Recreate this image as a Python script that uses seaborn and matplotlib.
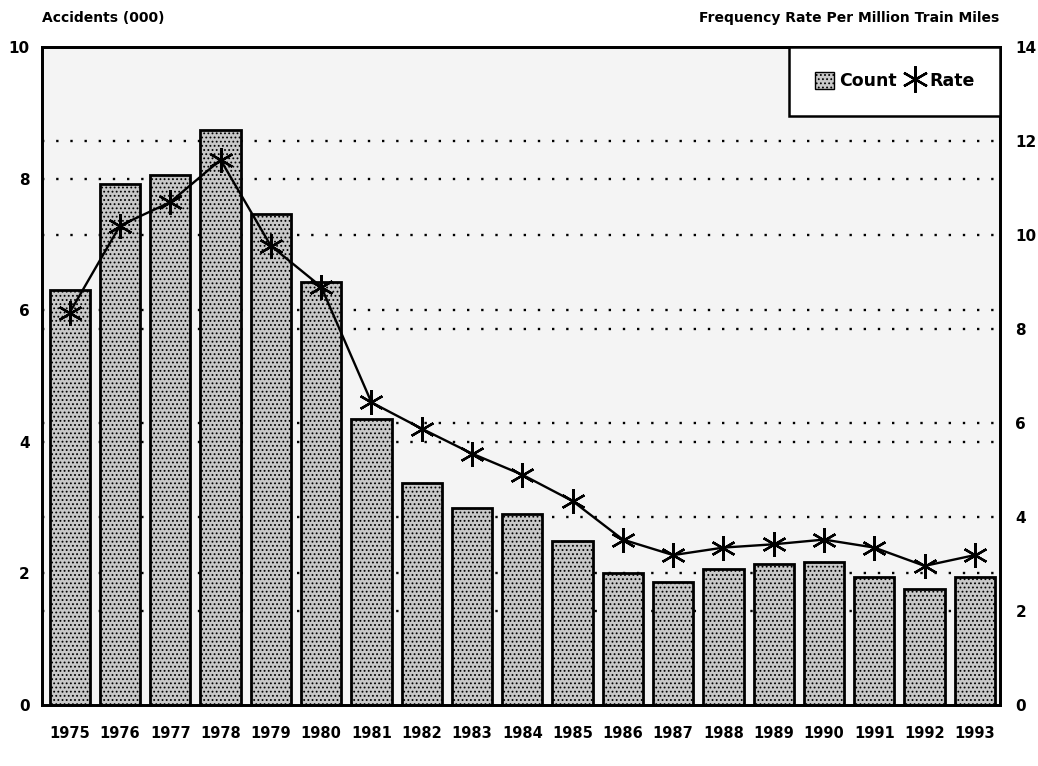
import numpy as np
import matplotlib
matplotlib.use("Agg")
import matplotlib.pyplot as plt
from matplotlib.lines import Line2D
from matplotlib.patches import Patch
import seaborn as sns

YEARS = ["1975", "1976", "1977", "1978", "1979", "1980", "1981", "1982", "1983", "1984",
         "1985", "1986", "1987", "1988", "1989", "1990", "1991", "1992", "1993"]
COUNT = [6.31, 7.92, 8.05, 8.74, 7.47, 6.43, 4.35, 3.38, 3.0, 2.91,
         2.5, 2.0, 1.87, 2.06, 2.15, 2.18, 1.95, 1.76, 1.95]
RATE = [8.35, 10.2, 10.7, 11.6, 9.77, 8.9, 6.44, 5.88, 5.35, 4.9,
        4.34, 3.52, 3.19, 3.35, 3.42, 3.52, 3.35, 2.96, 3.19]
LEFT_TICKS = [0, 2, 4, 6, 8, 10]
RIGHT_TICKS = [0, 2, 4, 6, 8, 10, 12, 14]

BG = "#f4f4f4"
BAR = "#c8c8c8"
INK = "black"
STAR = (6, 2, 0)

sns.set_theme(style="white")
plt.rcParams["font.family"] = ["DejaVu Sans"]
plt.rcParams["text.color"] = INK
plt.rcParams["hatch.linewidth"] = 0.8

fig = plt.figure(figsize=(10.38, 7.66), dpi=100, facecolor="white")
ax = fig.add_axes([0.0405, 0.0796, 0.9229, 0.859])
ax.set_facecolor(BG)

# dotted grid for both scales, kept under the bars
for v in LEFT_TICKS[1:-1]:
    ax.axhline(v, color=INK, linestyle=(0, (1, 5)), linewidth=1.7, zorder=0)
for r in RIGHT_TICKS[1:-1]:
    ax.axhline(r * 10 / 14, color=INK, linestyle=(0, (1, 5)), linewidth=1.7, zorder=0)

sns.barplot(x=YEARS, y=COUNT, ax=ax, color=BAR, saturation=1, width=0.8,
            edgecolor=INK, linewidth=2, hatch="....", zorder=2)
ax.set_xlim(-0.55, 18.5)
ax.set_ylim(0, 10)
ax.set_yticks(LEFT_TICKS)
ax.set_yticklabels([str(t) for t in LEFT_TICKS], fontsize=11, fontweight="bold")
ax.set_xticks(range(len(YEARS)))
ax.set_xticklabels(YEARS, fontsize=10.5, fontweight="bold")
ax.tick_params(axis="y", length=0, pad=9, colors=INK)
ax.tick_params(axis="x", length=0, pad=15, colors=INK)
ax.set_xlabel("")
ax.set_ylabel("")

ax2 = ax.twinx()
ax2.plot(np.arange(len(YEARS)), RATE, color=INK, linewidth=1.7,
         marker=STAR, markersize=18, markeredgewidth=1.7, zorder=3)
ax2.set_ylim(0, 14)
ax2.set_yticks(RIGHT_TICKS)
ax2.set_yticklabels([str(t) for t in RIGHT_TICKS], fontsize=11, fontweight="bold")
ax2.tick_params(axis="y", length=0, pad=11, colors=INK)

for a in (ax, ax2):
    for spine in a.spines.values():
        spine.set_edgecolor(INK)
        spine.set_linewidth(2)

handles = [
    Patch(facecolor=BAR, edgecolor=INK, hatch="....", linewidth=1, label="Count"),
    Line2D([], [], color=INK, linestyle="none", marker=STAR, markersize=19,
           markeredgewidth=1.7, label="Rate"),
]
leg = ax2.legend(handles=handles, loc="upper right", bbox_to_anchor=(1, 1), ncol=2,
                 borderaxespad=0, frameon=True, fancybox=False, framealpha=1,
                 edgecolor=INK, facecolor="white", borderpad=1.45, labelcolor=INK,
                 handlelength=1.1, handleheight=1.1, handletextpad=0.3, columnspacing=0.5,
                 prop={"weight": "bold", "size": 12.5})
leg.get_frame().set_linewidth(1.8)

fig.text(0.04, 0.985, "Accidents (000)", fontsize=10, fontweight="bold",
         color=INK, va="top", ha="left")
fig.text(0.963, 0.985, "Frequency Rate Per Million Train Miles", fontsize=10,
         fontweight="bold", color=INK, va="top", ha="right")

fig.savefig("out.png", dpi=100, facecolor="white")
